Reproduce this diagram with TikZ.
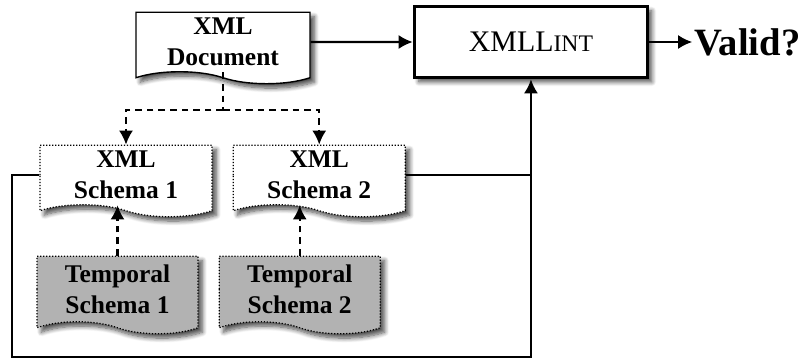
\documentclass[tikz,border=0pt]{standalone}
\usepackage{fontspec}
\setmainfont{Liberation Serif}
\usepackage{tikz}
\usetikzlibrary{positioning}
\usetikzlibrary{positioning,shapes,shadows,shadows.blur,arrows.meta}
\tikzset{
	shade/.style={blur shadow={shadow xshift=2.5pt, shadow yshift=-2.5pt,
		shadow blur radius=2.5pt, shadow blur steps=8, shadow opacity=70}},
	paper/.style={tape, tape bend top=none, tape bend bottom=out and in,
		tape bend height=0.24cm, align=center,
		font=\fontsize{14.5}{17.5}\selectfont\bfseries, shade},
	flow/.style={line width=1.3pt, -{Latex[length=8pt,width=8pt]}},
	dflow/.style={flow, dash pattern=on 3.8pt off 2.8pt},
}

\begin{document}
\begin{tikzpicture}
\useasboundingbox (0,0) rectangle (15.96,-7.22);

% XML document
\node [paper,
	draw,
	line width=0.8pt,
	fill=white,
	minimum width=3.48cm,
	minimum height=1.2cm,
]  (doc) at (4.46,-0.84) {
XML\\Document
};

% Validator
\node [draw,
	fill=white,
	line width=2pt,
	minimum width=4.66cm,
	minimum height=1.42cm,
	font=\fontsize{17}{20}\selectfont,
	shade,
	right = 2.04cm of doc
]  (lint) {
XMLL{\fontsize{13.5}{16}\selectfont INT}
};

% Result
\node [inner sep=1pt,
	font=\fontsize{22}{26}\selectfont\bfseries,
	right = 0.86cm of lint
]  (valid) {
Valid?
};

% Schemas
\node [paper,
	draw,
	line width=0.7pt,
	densely dotted,
	fill=white,
	minimum width=3.44cm,
	minimum height=1.4cm,
]  (schema1) at (2.52,-3.5) {
XML\\Schema 1
};
\node [paper,
	draw,
	line width=0.7pt,
	densely dotted,
	fill=white,
	minimum width=3.44cm,
	minimum height=1.4cm,
	right = 0.4cm of schema1
]  (schema2) {
XML\\Schema 2
};

% Temporal schemas
\node [paper,
	draw,
	line width=0.7pt,
	densely dotted,
	fill=black!30,
	minimum width=3.22cm,
	minimum height=1.55cm,
]  (temp1) at (2.35,-5.78) {
Temporal\\Schema 1
};
\node [paper,
	draw,
	line width=0.7pt,
	densely dotted,
	fill=black!30,
	minimum width=3.22cm,
	minimum height=1.55cm,
	right = 0.4cm of temp1
]  (temp2) {
Temporal\\Schema 2
};

% Arrows
\draw[flow] (doc) -- (lint);
\draw[flow] (lint) -- (valid);

\coordinate (split) at (doc.south |- 0,-2.2);
\draw[line width=1.3pt, dash pattern=on 3.8pt off 2.8pt] (doc.south) -- (split);
\draw[dflow] (split) -| (schema1.north);
\draw[dflow] (split) -| (schema2.north);

\draw[dflow] (temp1.north) -- (temp1.north |- schema1.south);
\draw[dflow] (temp2.north) -- (temp2.north |- schema2.south);

% Feedback to the validator
\coordinate (corner) at (0.24,-7.14);
\draw[flow] (schema1.west) -| (corner) -| (lint.south);
\draw[line width=1.3pt] (schema2.east) -- (schema2.east -| lint.south);

\end{tikzpicture}
\end{document}
